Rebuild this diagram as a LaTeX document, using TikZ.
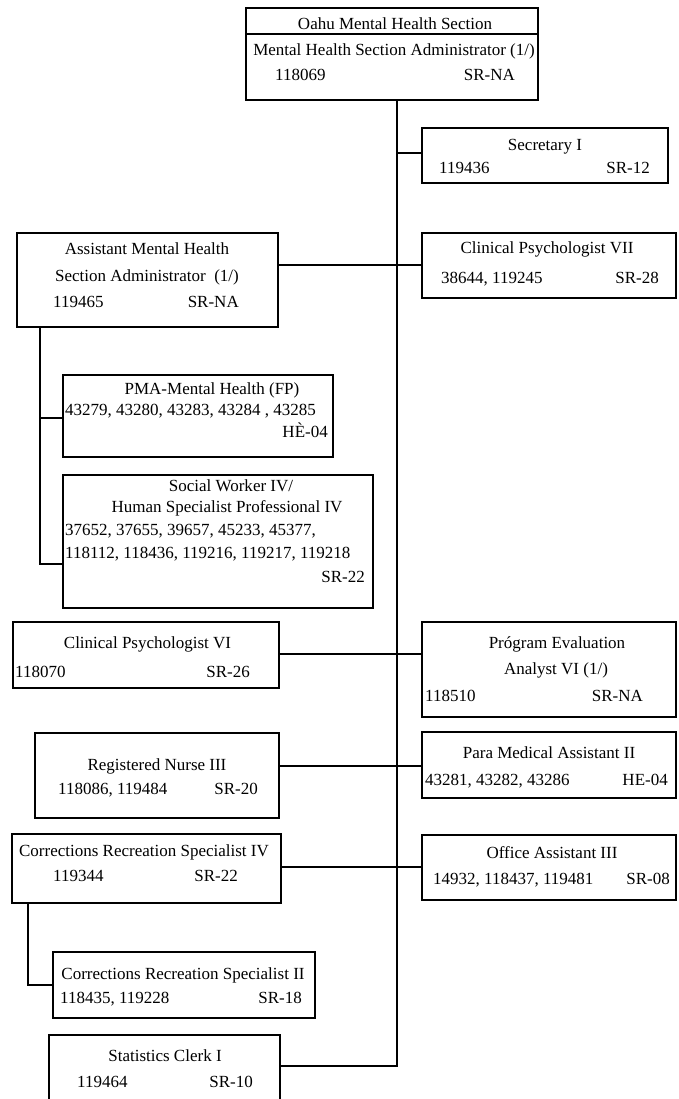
\documentclass[tikz,border=0pt]{standalone}
\usepackage{fontspec}
\setmainfont{Liberation Serif}
\begin{document}
\begin{tikzpicture}[x=1pt,y=-1pt,
  box/.style={draw, line width=2.2pt, inner sep=0pt},
  ln/.style={line width=2.2pt},
  txt/.style={inner sep=0pt, text height=11.5pt, text depth=0pt, font=\fontsize{17}{20}\selectfont},
  tl/.style={txt, anchor=west},
  tr/.style={txt, anchor=east}]
\useasboundingbox (0,0) rectangle (678,1099);

% boxes
\node[box, minimum width=292pt, minimum height=92pt] (top) at (392,54) {};
\node[box, minimum width=246pt, minimum height=55pt] (sec) at (545,155.5) {};
\node[box, minimum width=254pt, minimum height=65pt] (cp7) at (549,265.5) {};
\node[box, minimum width=261pt, minimum height=94pt] (asst) at (147.5,280) {};
\node[box, minimum width=270pt, minimum height=82pt] (pma) at (198,416) {};
\node[box, minimum width=310pt, minimum height=133pt] (sw) at (218,541.5) {};
\node[box, minimum width=266pt, minimum height=66pt] (cp6) at (146,655) {};
\node[box, minimum width=254pt, minimum height=95pt] (pe) at (549,669.5) {};
\node[box, minimum width=244pt, minimum height=85pt] (rn) at (157,775.5) {};
\node[box, minimum width=269pt, minimum height=69pt] (crs4) at (146.5,868.5) {};
\node[box, minimum width=254pt, minimum height=66pt] (pma2) at (549,765) {};
\node[box, minimum width=254pt, minimum height=65pt] (oa3) at (549,867.5) {};
\node[box, minimum width=262pt, minimum height=66pt] (crs2) at (184,985) {};
\node[box, minimum width=231pt, minimum height=75pt] (stats) at (164.5,1072.5) {};

% divider in top box
\path (top.north west) ++(0,27) coordinate (dl);
\draw[ln] (dl) -- (dl -| top.east);

% level coordinates
\coordinate (sb) at (397,1066);
\coordinate (ysec) at (0,153);
\coordinate (ya) at (0,265);
\coordinate (bx) at (40,0);
\coordinate (ysw) at (0,564);
\coordinate (ypma) at (0,418);
\coordinate (y6) at (0,654);
\coordinate (yrn) at (0,766);
\coordinate (y4) at (0,867);
\coordinate (cx) at (28,0);

% connectors
\draw[ln] (top.south -| sb) -- (sb) -- (sb -| stats.east);
\draw[ln] (sb |- ysec) -- (sec.west |- ysec);
\draw[ln] (asst.east |- ya) -- (cp7.west |- ya);
\draw[ln] (asst.south -| bx) |- (sw.west |- ysw);
\draw[ln] (bx |- ypma) -- (pma.west |- ypma);
\draw[ln] (cp6.east |- y6) -- (pe.west |- y6);
\draw[ln] (rn.east |- yrn) -- (pma2.west |- yrn);
\draw[ln] (crs4.east |- y4) -- (oa3.west |- y4);
\draw[ln] (crs4.south -| cx) |- (crs2.west);

% texts
\node[txt] (t1) at (395,24) {Oahu Mental Health Section};
\node[txt] (t2) at (394,50) {Mental Health Section Administrator (1/)};
\node[tl] (t3) at (275,75) {118069};
\node[tr] (t4) at (515,75) {SR-NA};

\node[txt] (s1) at (545,145) {Secretary I};
\node[tl] (s2) at (439,168) {119436};
\node[tr] (s3) at (650,168) {SR-12};

\node[txt] (c1) at (547,248) {Clinical Psychologist VII};
\node[tl] (c2) at (441,278) {38644, 119245};
\node[tr] (c3) at (659,278) {SR-28};

\node[txt] (a1) at (147,249) {Assistant Mental Health};
\node[txt] (a2) at (147,276) {Section Administrator\ \ (1/)};
\node[tl] (a3) at (53,302) {119465};
\node[tr] (a4) at (239,302) {SR-NA};

\node[txt] (p1) at (212,389) {PMA-Mental Health (FP)};
\node[tl] (p2) at (65,410) {43279, 43280, 43283, 43284 , 43285};
\node[tr] (p3) at (328,432) {HÈ-04};

\node[txt] (w1) at (231,486) {Social Worker IV/};
\node[txt] (w2) at (227,507) {Human Specialist Professional IV};
\node[tl] (w3) at (65,530) {37652, 37655, 39657, 45233, 45377,};
\node[tl] (w4) at (65,553) {118112, 118436, 119216, 119217, 119218};
\node[tr] (w5) at (365,577) {SR-22};

\node[txt] (d1) at (147.5,643) {Clinical Psychologist VI};
\node[tl] (d2) at (15,672) {118070};
\node[tr] (d3) at (250,672) {SR-26};

\node[txt] (e1) at (557,643) {Prógram Evaluation};
\node[txt] (e2) at (556,669) {Analyst VI (1/)};
\node[tl] (e3) at (425,696) {118510};
\node[tr] (e4) at (643,696) {SR-NA};

\node[txt] (r1) at (157,765) {Registered Nurse III};
\node[tl] (r2) at (58,789) {118086, 119484};
\node[tr] (r3) at (258,789) {SR-20};

\node[txt] (m1) at (549,753) {Para Medical Assistant II};
\node[tl] (m2) at (425,780) {43281, 43282, 43286};
\node[tr] (m3) at (668,780) {HE-04};

\node[txt] (f1) at (144,851) {Corrections Recreation Specialist IV};
\node[tl] (f2) at (53,876) {119344};
\node[tr] (f3) at (238,876) {SR-22};

\node[txt] (o1) at (552,853) {Office Assistant III};
\node[tl] (o2) at (433,879) {14932, 118437, 119481};
\node[tr] (o3) at (670,879) {SR-08};

\node[txt] (g1) at (183,974) {Corrections Recreation Specialist II};
\node[tl] (g2) at (60,998) {118435, 119228};
\node[tr] (g3) at (302,998) {SR-18};

\node[txt] (h1) at (165,1056) {Statistics Clerk I};
\node[tl] (h2) at (77,1082) {119464};
\node[tr] (h3) at (253,1082) {SR-10};
\end{tikzpicture}
\end{document}
